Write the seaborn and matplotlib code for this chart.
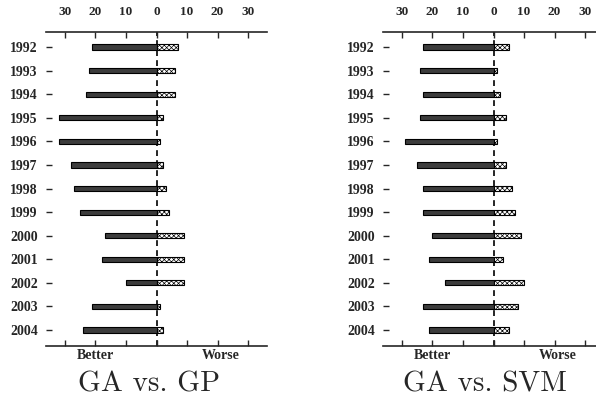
import matplotlib
matplotlib.use("Agg")
import matplotlib.pyplot as plt
import seaborn as sns
import pandas as pd

years = ["1992", "1993", "1994", "1995", "1996", "1997", "1998",
         "1999", "2000", "2001", "2002", "2003", "2004"]
gp_better = [21, 22, 23, 32, 32, 28, 27, 25, 17, 18, 10, 21, 24]
gp_worse = [7, 6, 6, 2, 1, 2, 3, 4, 9, 9, 9, 1, 2]
svm_better = [23, 24, 23, 24, 29, 25, 23, 23, 20, 21, 16, 23, 21]
svm_worse = [5, 1, 2, 4, 1, 4, 6, 7, 9, 3, 10, 8, 5]
tick_vals = [-30, -20, -10, 0, 10, 20, 30]
tick_labels = ["30", "20", "10", "0", "10", "20", "30"]
titles = ["GA vs. GP", "GA vs. SVM"]

sns.set_style("ticks")
plt.rcParams["font.family"] = ["Liberation Serif", "DejaVu Serif"]
plt.rcParams["hatch.linewidth"] = 0.5

W, H = 596, 397
fig = plt.figure(figsize=(W / 100, H / 100), dpi=100)

def px_axes(x0, y0, x1, y1):
    return fig.add_axes([x0 / W, 1 - y1 / H, (x1 - x0) / W, (y1 - y0) / H])

panels = [
    (px_axes(46, 32, 267, 346), gp_better, gp_worse, 148.5),
    (px_axes(383, 32, 604, 346), svm_better, svm_worse, 485),
]

for i, (ax, better, worse, tx) in enumerate(panels):
    df = pd.DataFrame({"year": years,
                       "better": [-b for b in better],
                       "worse": worse})
    sns.barplot(data=df, y="year", x="better", order=years, orient="h",
                color="#3c3c3c", width=0.22, edgecolor="black",
                linewidth=0.8, saturation=1, ax=ax)
    n0 = len(ax.patches)
    sns.barplot(data=df, y="year", x="worse", order=years, orient="h",
                color="white", width=0.22, edgecolor="black",
                linewidth=0.8, saturation=1, ax=ax)
    for p in ax.patches[n0:]:
        p.set_facecolor("white")
        p.set_hatch("xxxxxxx")

    ax.set_xlim(-36.2, 36.2)
    ax.set_ylim(12.68, -0.64)
    ax.axvline(0, color="black", linestyle=(0, (3.5, 2.5)), linewidth=1.2,
               zorder=0.5)
    ax.set_xlabel("")
    ax.set_ylabel("")
    ax.set_xticks(tick_vals)
    ax.set_xticklabels(tick_labels, fontweight="bold", fontsize=9.5)
    ax.tick_params(axis="x", top=True, bottom=True, labeltop=True,
                   labelbottom=False, direction="in", length=4, width=1,
                   pad=10)
    ax.tick_params(axis="y", left=True, direction="in", length=4, width=1,
                   pad=6)
    for lab in ax.get_yticklabels():
        lab.set_fontweight("bold")
        lab.set_fontsize(10)
    for s in ["left", "right"]:
        ax.spines[s].set_visible(False)
    for s in ["top", "bottom"]:
        ax.spines[s].set_linewidth(1.2)
    ax.set_facecolor("white")

    ax.text(-20, 12.68 + 0.12, "Better", ha="center", va="top",
            fontweight="bold", fontsize=10)
    ax.text(21, 12.68 + 0.12, "Worse", ha="center", va="top",
            fontweight="bold", fontsize=10)
    fig.text(tx / W, 1 - 391 / H, titles[i], ha="center", va="baseline",
             fontsize=21, family="cmr10")

fig.savefig("out.png", dpi=100, facecolor="white")
